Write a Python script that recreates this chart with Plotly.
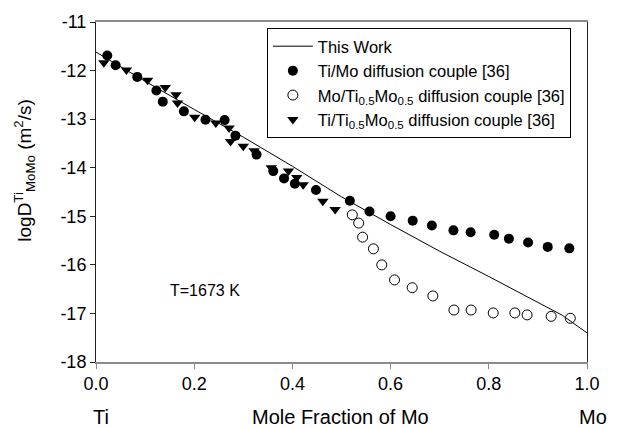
import plotly.graph_objects as go

# "This Work" model line
line_x = [0.0, 0.1, 0.2, 0.3, 0.4, 0.5, 0.6, 0.7, 0.8, 0.9, 0.95, 1.0]
line_y = [-11.62, -12.22, -12.80, -13.37, -13.97, -14.60, -15.17, -15.72, -16.24, -16.78, -17.04, -17.40]

# Ti/Mo diffusion couple [36] (filled circles)
timo_x = [0.023, 0.040, 0.084, 0.123, 0.136, 0.179, 0.223, 0.262, 0.284, 0.327, 0.361, 0.383, 0.405, 0.448,
          0.517, 0.557, 0.600, 0.645, 0.684, 0.728, 0.763, 0.811, 0.841, 0.880, 0.920, 0.964]
timo_y = [-11.69, -11.89, -12.13, -12.41, -12.64, -12.84, -13.01, -13.02, -13.34, -13.73, -14.07, -14.22, -14.33, -14.46,
          -14.68, -14.90, -15.00, -15.09, -15.19, -15.29, -15.33, -15.38, -15.46, -15.54, -15.63, -15.66]

# Mo/Ti0.5Mo0.5 diffusion couple [36] (open circles)
moti_x = [0.522, 0.535, 0.543, 0.565, 0.582, 0.608, 0.644, 0.686, 0.729, 0.764, 0.809, 0.853, 0.878, 0.927, 0.966]
moti_y = [-14.97, -15.14, -15.43, -15.67, -16.00, -16.31, -16.47, -16.64, -16.93, -16.93, -16.99, -16.99, -17.03, -17.06, -17.10]

# Ti/Ti0.5Mo0.5 diffusion couple [36] (down triangles)
titi_x = [0.016, 0.062, 0.105, 0.141, 0.163, 0.166, 0.201, 0.244, 0.271, 0.274, 0.300, 0.322, 0.357, 0.392,
          0.409, 0.422, 0.462, 0.487]
titi_y = [-11.84, -11.99, -12.20, -12.35, -12.50, -12.67, -12.96, -13.08, -13.18, -13.46, -13.56, -13.65, -14.00, -14.07,
          -14.20, -14.35, -14.69, -14.86]

x_ticks = [0.0, 0.2, 0.4, 0.6, 0.8, 1.0]
y_ticks = [-11, -12, -13, -14, -15, -16, -17, -18]

FONT = "Liberation Sans, Arial, sans-serif"

fig = go.Figure()
fig.add_trace(go.Scatter(x=line_x, y=line_y, mode="lines", name="This Work",
                         line=dict(color="black", width=1)))
fig.add_trace(go.Scatter(x=timo_x, y=timo_y, mode="markers", name="Ti/Mo diffusion couple [36]",
                         marker=dict(symbol="circle", size=10, color="black")))
fig.add_trace(go.Scatter(x=moti_x, y=moti_y, mode="markers",
                         name="Mo/Ti<sub>0.5</sub>Mo<sub>0.5</sub> diffusion couple [36]",
                         marker=dict(symbol="circle-open", size=10, color="black", line=dict(width=1))))
fig.add_trace(go.Scatter(x=titi_x, y=titi_y, mode="markers",
                         name="Ti/Ti<sub>0.5</sub>Mo<sub>0.5</sub> diffusion couple [36]",
                         marker=dict(symbol="triangle-down", size=10, color="black")))

fig.update_layout(
    width=618, height=428,
    margin=dict(l=96, r=31, t=19, b=66),
    paper_bgcolor="white", plot_bgcolor="white",
    font=dict(family=FONT, color="black"),
    showlegend=True,
    legend=dict(x=0.348, y=0.9825, xanchor="left", yanchor="top",
                bordercolor="black", borderwidth=1, bgcolor="white",
                font=dict(size=16.5, family=FONT), itemwidth=40,
                tracegroupgap=0),
    xaxis=dict(range=[0, 1], tickvals=x_ticks, ticktext=[f"{v:.1f}" for v in x_ticks],
               showgrid=False, zeroline=False, showline=True, linecolor="#8a8a8a", linewidth=1.5,
               mirror=True, ticks="outside", ticklen=5, tickcolor="#8a8a8a",
               tickfont=dict(size=18, family=FONT)),
    yaxis=dict(range=[-18, -11], tickvals=y_ticks, ticktext=[str(v) for v in y_ticks],
               showgrid=False, zeroline=False, showline=True, linecolor="#222", linewidth=1,
               mirror=True, ticks="outside", ticklen=5, tickcolor="#222",
               tickfont=dict(size=18, family=FONT)),
)

fig.add_annotation(xref="paper", yref="paper", x=-0.145, y=0.565, xanchor="center", yanchor="middle",
                   textangle=-90, showarrow=False,
                   text="logD<sup>Ti</sup><sub>MoMo</sub> (m<sup>2</sup>/s)",
                   font=dict(size=19, family=FONT))
fig.add_annotation(xref="paper", yref="paper", x=0.01, y=-0.163, xanchor="center", yanchor="middle",
                   showarrow=False, text="Ti", font=dict(size=20, family=FONT))
fig.add_annotation(xref="paper", yref="paper", x=0.497, y=-0.163, xanchor="center", yanchor="middle",
                   showarrow=False, text="Mole Fraction of Mo", font=dict(size=20, family=FONT))
fig.add_annotation(xref="paper", yref="paper", x=1.012, y=-0.163, xanchor="center", yanchor="middle",
                   showarrow=False, text="Mo", font=dict(size=20, family=FONT))
fig.add_annotation(xref="x", yref="y", x=0.147, y=-16.53, xanchor="left", yanchor="middle",
                   showarrow=False, text="T=1673 K", font=dict(size=16, family=FONT))

fig.write_html("out.html")
